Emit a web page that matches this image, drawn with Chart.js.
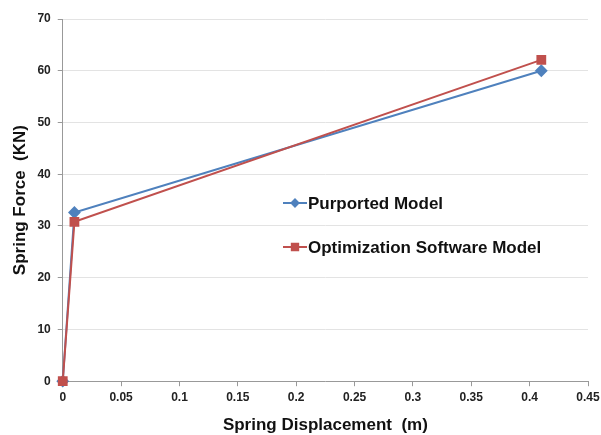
<!DOCTYPE html>
<html>
<head>
<meta charset="utf-8">
<script src="https://cdn.jsdelivr.net/npm/chart.js@4.4.1/dist/chart.umd.min.js"></script>
<style>
html,body{margin:0;padding:0;background:#fff;}
#wrap{width:601px;height:435px;}
</style>
</head>
<body>
<div id="wrap"><canvas id="c" width="601" height="435"></canvas></div>
<script>
const seriesNames = ["Purported Model", "Optimization Software Model"];
const displacement = [0, 0.01, 0.41];
const purportedForce = [0, 32.6, 60.0];
const optimizationForce = [0, 30.8, 62.1];
const xTicks = [0, 0.05, 0.1, 0.15, 0.2, 0.25, 0.3, 0.35, 0.4, 0.45];
const yTicks = [0, 10, 20, 30, 40, 50, 60, 70];

const blue = '#4F81BD';
const red = '#C0504D';
const FONT = '"Liberation Sans", Arial, sans-serif';

const toPts = (xs, ys) => xs.map((x, i) => ({x: x, y: ys[i]}));

const legendPlugin = {
  id: 'innerLegend',
  afterDraw(chart) {
    const c = chart.ctx;
    const ds = chart.data.datasets;
    const items = [[203, ds[0], 3.5], [247, ds[1], 4.5]];
    c.save();
    items.forEach(([y, d, r]) => {
      const x = 283;
      c.strokeStyle = d.borderColor;
      c.lineWidth = 2;
      c.beginPath();
      c.moveTo(x, y);
      c.lineTo(x + 24, y);
      c.stroke();
      c.fillStyle = d.backgroundColor;
      Chart.helpers.drawPoint(c, {pointStyle: d.pointStyle, radius: r, rotation: 0, borderWidth: 1}, x + 12, y);
      c.fillStyle = '#111';
      c.font = 'bold 17px ' + FONT;
      c.textBaseline = 'middle';
      c.textAlign = 'left';
      c.fillText(d.label, x + 25, y + 1);
    });
    c.restore();
  }
};

new Chart(document.getElementById('c'), {
  type: 'scatter',
  data: {
    datasets: [
      {
        label: seriesNames[0],
        data: toPts(displacement, purportedForce),
        showLine: true,
        borderColor: blue,
        backgroundColor: blue,
        borderWidth: 2,
        pointStyle: 'rectRot',
        pointRadius: 5,
        pointHoverRadius: 5,
        tension: 0,
        clip: false,
        order: 1
      },
      {
        label: seriesNames[1],
        data: toPts(displacement, optimizationForce),
        showLine: true,
        borderColor: red,
        backgroundColor: red,
        borderWidth: 2,
        pointStyle: 'rect',
        pointRadius: 5.5,
        pointHoverRadius: 5.5,
        tension: 0,
        clip: false,
        order: 0
      }
    ]
  },
  options: {
    responsive: false,
    animation: false,
    devicePixelRatio: 1,
    layout: {padding: {left: 10, right: 0, top: 19, bottom: -1}},
    plugins: {
      legend: {display: false},
      tooltip: {enabled: false}
    },
    scales: {
      x: {
        type: 'linear',
        min: xTicks[0],
        max: xTicks[xTicks.length - 1],
        afterBuildTicks: (s) => { s.ticks = xTicks.map(v => ({value: v})); },
        afterFit: (s) => { s.paddingRight = 13; },
        border: {color: '#999', width: 1},
        grid: {drawOnChartArea: false, color: '#999', tickLength: 5},
        ticks: {
          color: '#222',
          font: {family: FONT, size: 12, weight: 'bold'},
          padding: 4,
          maxRotation: 0,
          callback: (v) => String(+v.toFixed(2))
        },
        title: {
          display: true,
          text: 'Spring Displacement  (m)',
          color: '#111',
          font: {family: FONT, size: 17, weight: 'bold'},
          padding: {top: 7, bottom: 0}
        }
      },
      y: {
        type: 'linear',
        min: yTicks[0],
        max: yTicks[yTicks.length - 1],
        afterBuildTicks: (s) => { s.ticks = yTicks.map(v => ({value: v})); },
        border: {color: '#999', width: 1},
        grid: {
          color: '#e3e3e3',
          tickColor: '#999',
          tickLength: 5
        },
        ticks: {
          color: '#222',
          font: {family: FONT, size: 12, weight: 'bold'},
          padding: 7
        },
        title: {
          display: true,
          text: 'Spring Force  (KN)',
          color: '#111',
          font: {family: FONT, size: 17, weight: 'bold'},
          padding: {top: 0, bottom: 0}
        }
      }
    }
  },
  plugins: [legendPlugin]
});
</script>
</body>
</html>
